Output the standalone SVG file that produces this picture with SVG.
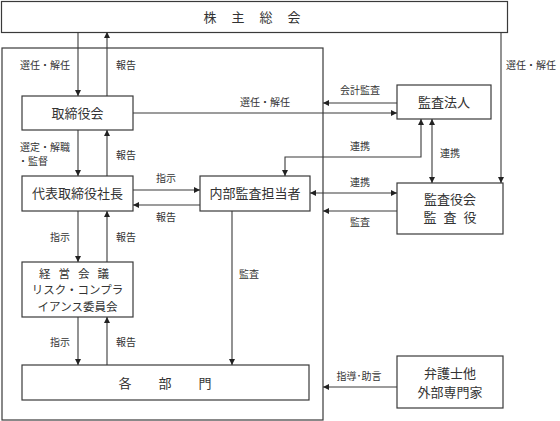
<svg xmlns="http://www.w3.org/2000/svg" width="560" height="421" viewBox="0 0 560 421">
<style>
.box{fill:#fff;stroke:#3a3a3a;stroke-width:1.2}
.frame{fill:none;stroke:#3a3a3a;stroke-width:1.2}
.ln{fill:none;stroke:#3a3a3a;stroke-width:1.1}
.t{font-family:"Noto Sans CJK JP","Noto Sans CJK SC",sans-serif;font-size:13px;fill:#333;text-anchor:middle}
.m{font-family:"Noto Sans CJK JP","Noto Sans CJK SC",sans-serif;font-size:11.5px;fill:#333;text-anchor:middle}
.s{font-family:"Noto Sans CJK JP","Noto Sans CJK SC",sans-serif;font-size:10px;fill:#333;text-anchor:middle}
</style>
<defs>
<marker id="ah" viewBox="0 0 10 10" refX="10" refY="5" markerWidth="6" markerHeight="6" orient="auto-start-reverse" markerUnits="userSpaceOnUse">
<path d="M0,0 L10,5 L0,10 z" fill="#222"/>
</marker>
</defs>
<rect width="560" height="421" fill="#fff"/>
<rect class="frame" x="2" y="48" width="321" height="372"/>
<g id="kabunushi"><rect class="box" x="1.5" y="1.5" width="506" height="31"/><text class="t" x="203.5" y="21.5" style="text-anchor:start;letter-spacing:15px">株主総会</text></g>
<g id="torishimariyakukai"><rect class="box" x="22" y="96" width="111" height="34"/><text class="t" x="77.5" y="117.5">取締役会</text></g>
<g id="daihyo"><rect class="box" x="22" y="176" width="111" height="35"/><text class="t" x="77.5" y="198">代表取締役社長</text></g>
<g id="keiei"><rect class="box" x="22" y="262" width="111" height="55"/><text class="m" x="39" y="277.5" style="text-anchor:start;letter-spacing:8px">経営会議</text><text class="m" x="77.5" y="294.2">リスク・コンプラ</text><text class="m" x="77.5" y="311">イアンス委員会</text></g>
<g id="kakubumon"><rect class="box" x="22" y="365" width="287" height="35"/><text class="t" x="118.5" y="388" style="text-anchor:start;letter-spacing:27px">各部門</text></g>
<g id="naibu"><rect class="box" x="200" y="176" width="110" height="35"/><text class="t" x="255" y="198">内部監査担当者</text></g>
<g id="kansahojin"><rect class="box" x="397" y="85" width="94" height="34"/><text class="t" x="444" y="106.5">監査法人</text></g>
<g id="kansayaku"><rect class="box" x="397" y="183" width="106" height="51"/><text class="t" x="450" y="203.5">監査役会</text><text class="t" x="423.5" y="221.5" style="text-anchor:start;letter-spacing:7px">監査役</text></g>
<g id="bengoshi"><rect class="box" x="397" y="356" width="106" height="52"/><text class="t" x="450" y="378">弁護士他</text><text class="t" x="450" y="396.5">外部専門家</text></g>
<g id="connectors">
<line class="ln" x1="78" y1="32" x2="78" y2="96" marker-end="url(#ah)"/>
<line class="ln" x1="107" y1="96" x2="107" y2="32" marker-end="url(#ah)"/>
<line class="ln" x1="133" y1="113" x2="397" y2="113" marker-end="url(#ah)"/>
<line class="ln" x1="397" y1="103" x2="323" y2="103" marker-end="url(#ah)"/>
<line class="ln" x1="501" y1="32" x2="501" y2="183" marker-end="url(#ah)"/>
<line class="ln" x1="78" y1="130" x2="78" y2="176" marker-end="url(#ah)"/>
<line class="ln" x1="107" y1="176" x2="107" y2="130" marker-end="url(#ah)"/>
<path class="ln" d="M421,119 L421,157 L285,157 L285,176" marker-start="url(#ah)" marker-end="url(#ah)"/>
<line class="ln" x1="432" y1="119" x2="432" y2="183" marker-start="url(#ah)" marker-end="url(#ah)"/>
<line class="ln" x1="133" y1="190" x2="200" y2="190" marker-end="url(#ah)"/>
<line class="ln" x1="200" y1="205" x2="133" y2="205" marker-end="url(#ah)"/>
<line class="ln" x1="310" y1="193" x2="397" y2="193" marker-start="url(#ah)" marker-end="url(#ah)"/>
<line class="ln" x1="397" y1="211" x2="323" y2="211" marker-end="url(#ah)"/>
<line class="ln" x1="78" y1="211" x2="78" y2="262" marker-end="url(#ah)"/>
<line class="ln" x1="107" y1="262" x2="107" y2="211" marker-end="url(#ah)"/>
<line class="ln" x1="232" y1="211" x2="232" y2="365" marker-end="url(#ah)"/>
<line class="ln" x1="78" y1="317" x2="78" y2="365" marker-end="url(#ah)"/>
<line class="ln" x1="107" y1="365" x2="107" y2="317" marker-end="url(#ah)"/>
<line class="ln" x1="397" y1="387" x2="323" y2="387" marker-end="url(#ah)"/>
</g>
<g id="labels">
<text class="s" x="45" y="69">選任・解任</text>
<text class="s" x="126" y="69">報告</text>
<text class="s" x="265" y="106">選任・解任</text>
<text class="s" x="360" y="94">会計監査</text>
<text class="s" x="531" y="69">選任・解任</text>
<text class="s" x="45" y="151">選定・解職</text>
<text class="s" x="33" y="165">・監督</text>
<text class="s" x="126" y="159">報告</text>
<text class="s" x="360" y="150">連携</text>
<text class="s" x="450" y="157">連携</text>
<text class="s" x="166" y="182">指示</text>
<text class="s" x="166" y="221">報告</text>
<text class="s" x="360" y="186">連携</text>
<text class="s" x="360" y="226">監査</text>
<text class="s" x="60" y="241">指示</text>
<text class="s" x="126" y="241">報告</text>
<text class="s" x="249" y="278">監査</text>
<text class="s" x="60" y="346">指示</text>
<text class="s" x="126" y="346">報告</text>
<text class="s" x="359" y="380">指導･助言</text>
</g>
</svg>
